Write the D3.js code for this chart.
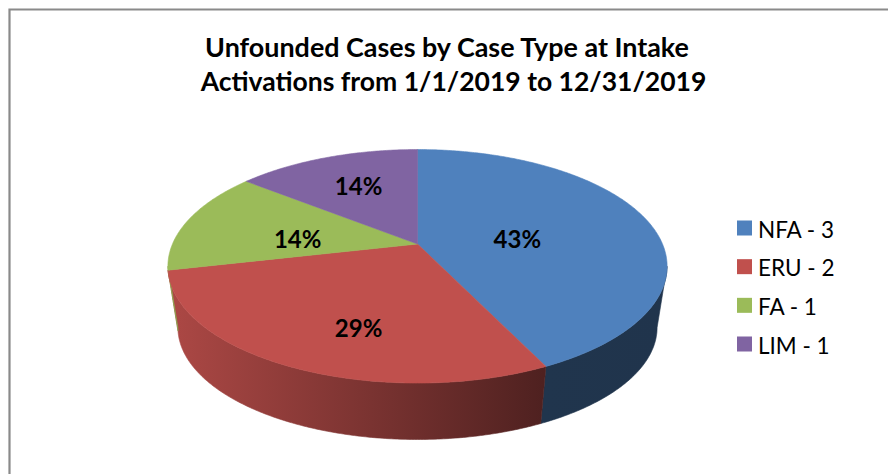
<!DOCTYPE html>
<html><head><meta charset="utf-8">
<script src="https://cdn.jsdelivr.net/npm/d3@7"></script>
<style>html,body{margin:0;padding:0;background:#fff;overflow:hidden}</style>
</head><body>
<svg id="chart" width="888" height="474"></svg>
<script>
// ---- data ----
const categories = ["NFA", "ERU", "FA", "LIM"];
const values = [3, 2, 1, 1];
const titleLines = ["Unfounded Cases by Case Type at Intake", "Activations from 1/1/2019 to 12/31/2019"];
const colors = ["#4f81bd", "#c0504d", "#9bbb59", "#8064a2"];

// ---- layout ----
const W = 888, H = 474;
const cx = 417.5, cy = 244, rx = 245, ry = 112.5, k = 0.191, depth = 62, sb = 0.96;
const svg = d3.select("#chart");
svg.append("rect").attr("width", W).attr("height", H).attr("fill", "#fff");
svg.append("path").attr("d", `M9.5,${H + 5} L9.5,9.5 L${W + 5},9.5`)
  .attr("fill", "none").attr("stroke", "#8a8a8a").attr("stroke-width", 2.2);

const color = d3.scaleOrdinal().domain(categories).range(colors);
const total = d3.sum(values);
const pct = d3.format(".0%");

function proj(theta, f = 1, bottom = false) {
  const u = Math.sin(theta) * f, v = Math.cos(theta) * f;
  const s = 1 / (1 + k * v);
  if (!bottom) return [cx + rx * u * s, cy - ry * v * s];
  return [cx + sb * rx * u * s, cy + depth - sb * ry * v * s];
}
function arcPts(a0, a1, bottom) {
  const n = Math.max(2, Math.ceil(Math.abs(a1 - a0) / 0.01));
  return d3.range(n + 1).map(i => proj(a0 + (a1 - a0) * i / n, 1, bottom));
}

const data = categories.map((c, i) => ({ cat: c, value: values[i] }));
const arcs = d3.pie().value(d => d.value).sort(null).startAngle(0).endAngle(2 * Math.PI)(data);

// gradients for side walls
const defs = svg.append("defs");
const xL = cx - rx - 4, xR = cx + rx + 6;
const gradStops = [[0, 0.9], [0.06, 0.86], [0.75, 0.41], [1, 0.40]];
arcs.forEach((a, i) => {
  const g = defs.append("linearGradient").attr("id", "side" + i)
    .attr("gradientUnits", "userSpaceOnUse").attr("x1", xL).attr("x2", xR).attr("y1", 0).attr("y2", 0);
  const base = d3.rgb(color(a.data.cat));
  gradStops.forEach(([o, f]) => {
    g.append("stop").attr("offset", o).attr("stop-color", d3.rgb(base.r * f, base.g * f, base.b * f).formatHex());
  });
});

// visible side range (front-facing)
const fr0 = Math.PI / 2 + Math.asin(k), fr1 = 3 * Math.PI / 2 - Math.asin(k);
const sides = svg.append("g");
arcs.forEach((a, i) => {
  const s0 = Math.max(a.startAngle, fr0), s1 = Math.min(a.endAngle, fr1);
  if (s1 <= s0) return;
  const pts = arcPts(s0, s1, false).concat(arcPts(s1, s0, true));
  sides.append("path").attr("d", "M" + pts.map(p => p.join(",")).join("L") + "Z")
    .attr("fill", `url(#side${i})`).attr("stroke", `url(#side${i})`).attr("stroke-width", 0.6);
});

// top faces
const tops = svg.append("g");
arcs.forEach(a => {
  const pts = [[cx, cy]].concat(arcPts(a.startAngle, a.endAngle, false));
  tops.append("path").attr("d", "M" + pts.map(p => p.join(",")).join("L") + "Z")
    .attr("fill", color(a.data.cat)).attr("stroke", color(a.data.cat)).attr("stroke-width", 0.6);
});

// data labels: placed on an inner label ellipse at each slice's mid-angle
const lcx = cx - 10, lcy = cy + 12.5, lrx = rx * 0.46, lry = ry * 0.705;
svg.append("g").selectAll("text").data(arcs).join("text")
  .attr("transform", a => {
    const m = (a.startAngle + a.endAngle) / 2;
    return `translate(${lcx + lrx * Math.sin(m)},${lcy - lry * Math.cos(m)})`;
  })
  .attr("text-anchor", "middle").attr("dominant-baseline", "central")
  .attr("font-family", "Lato, 'Open Sans', sans-serif").attr("font-weight", "bold")
  .attr("font-size", 24).attr("fill", "#000")
  .text(a => pct(a.data.value / total));

// title
const titleCenters = [447, 453.5];
const titleWidths = [484, 506];
const titleBase = d3.scalePoint().domain([0, 1]).range([57, 91]);
titleLines.forEach((t, i) => {
  const el = svg.append("text").attr("x", titleCenters[i]).attr("y", titleBase(i))
    .attr("text-anchor", "middle").attr("font-family", "Lato, sans-serif")
    .attr("font-weight", "bold").attr("font-size", 25).attr("fill", "#000").text(t);
  const w = el.node().getComputedTextLength();
  el.attr("font-size", 25 * titleWidths[i] / w);
});

// legend
const ly = d3.scalePoint().domain(categories).range([228, 344]);
const leg = svg.append("g").selectAll("g").data(data).join("g")
  .attr("transform", d => `translate(737,${ly(d.cat)})`);
leg.append("rect").attr("x", 0).attr("y", -7.5).attr("width", 15).attr("height", 15)
  .attr("fill", d => color(d.cat));
leg.append("text").attr("x", 21).attr("y", 1).attr("dominant-baseline", "central")
  .attr("font-family", "Lato, sans-serif").attr("font-size", 22.5).attr("fill", "#000")
  .text(d => `${d.cat} - ${d.value}`);
</script>
</body></html>
